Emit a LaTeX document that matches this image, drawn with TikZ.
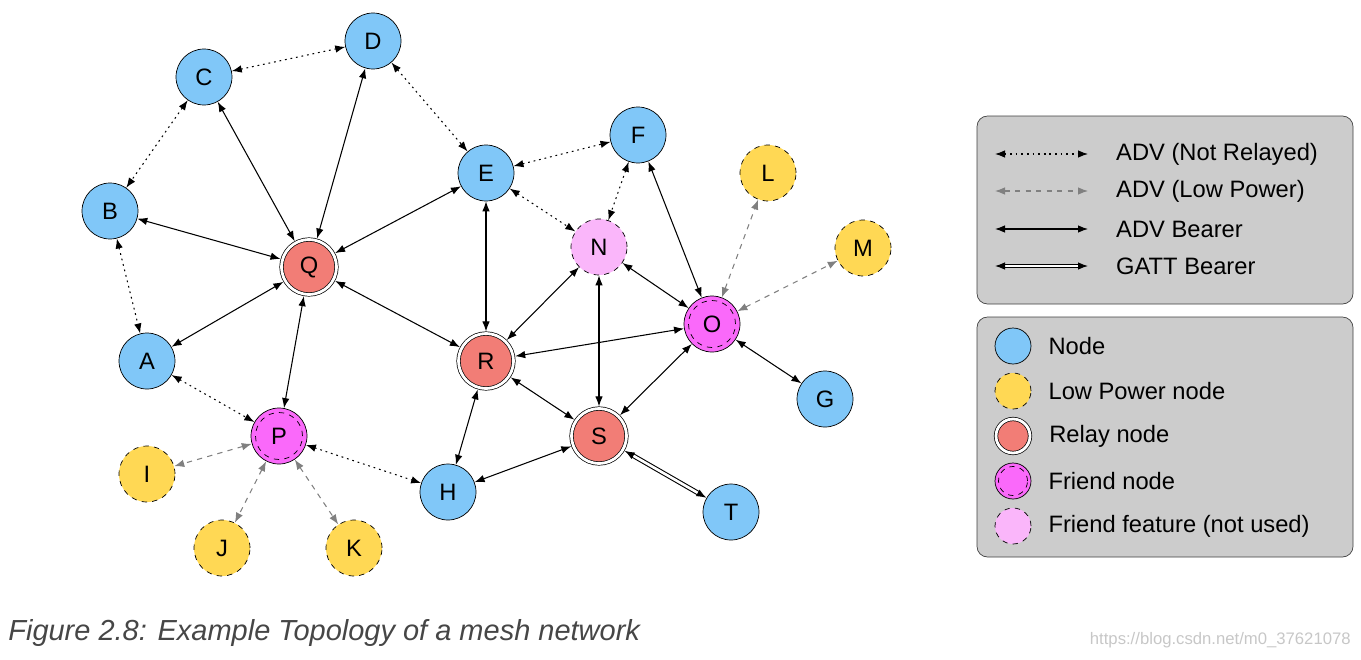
\documentclass[tikz,border=0pt]{standalone}
\usepackage{fontspec}
\setmainfont{Liberation Sans}
\usetikzlibrary{arrows.meta,positioning}

\definecolor{nodeblue}{RGB}{128,199,248}
\definecolor{lowyellow}{RGB}{255,216,84}
\definecolor{relayred}{RGB}{242,125,118}
\definecolor{friendpink}{RGB}{250,105,250}
\definecolor{featurepink}{RGB}{250,182,250}
\definecolor{legendgray}{RGB}{204,204,204}
\definecolor{captiongray}{RGB}{70,70,70}

\begin{document}
\begin{tikzpicture}[
		x=0.02cm, y=-0.02cm,
		every node/.style={font=\fontsize{13.5}{16}\selectfont},
		mesh/.style={circle, draw, minimum size=1.12cm, inner sep=0pt, fill=nodeblue},
		lowpower/.style={mesh, fill=lowyellow, dashed},
		relay/.style={mesh, fill=relayred, double, double distance=1.6pt, minimum size=1.1cm, outer sep=1.2pt},
		friend/.style={mesh, fill=friendpink, path picture={\draw[dashed] (path picture bounding box.center) circle (0.47cm);}},
		feature/.style={mesh, fill=featurepink, dashed},
		small/.style={minimum size=0.72cm},
		tip/.tip={Latex[length=2mm, width=1.5mm]},
		adv/.style={tip-tip, semithick, dash pattern=on 1pt off 2.2pt},
		lowadv/.style={tip-tip, dashed, semithick, gray},
		bearer/.style={tip-tip, semithick},
		gatt/.style={tip-tip, semithick, double, double distance=1.5pt},
		legendbox/.style={draw=black!75, fill=legendgray, rounded corners=6pt}
	]
	\useasboundingbox (0,0) rectangle (1361,659);

	% mesh nodes
	\node[mesh] (C) at (204,77) {C};
	\node[mesh] (D) at (373,41) {D};
	\node[mesh] (B) at (110,211) {B};
	\node[mesh] (E) at (486,173) {E};
	\node[mesh] (F) at (638,135) {F};
	\node[lowpower] (L) at (768,173) {L};
	\node[lowpower] (M) at (863,248) {M};
	\node[feature] (N) at (599,247) {N};
	\node[relay] (Q) at (309,267) {Q};
	\node[friend] (O) at (712,324) {O};
	\node[mesh] (A) at (147,361) {A};
	\node[relay] (R) at (486,361) {R};
	\node[mesh] (G) at (825,399) {G};
	\node[friend] (P) at (279,436) {P};
	\node[relay] (S) at (599,436) {S};
	\node[lowpower] (I) at (147,474) {I};
	\node[mesh] (H) at (448,492) {H};
	\node[mesh] (T) at (731,512) {T};
	\node[lowpower] (J) at (222,548) {J};
	\node[lowpower] (K) at (354,548) {K};

	% not relayed
	\draw[adv] (C) -- (D);
	\draw[adv] (C) -- (B);
	\draw[adv] (B) -- (A);
	\draw[adv] (D) -- (E);
	\draw[adv] (E) -- (F);
	\draw[adv] (E) -- (N);
	\draw[adv] (F) -- (N);
	\draw[adv] (A) -- (P);
	\draw[adv] (P) -- (H);

	% low power
	\draw[lowadv] (P) -- (I);
	\draw[lowadv] (P) -- (J);
	\draw[lowadv] (P) -- (K);
	\draw[lowadv] (O) -- (L);
	\draw[lowadv] (O) -- (M);

	% bearers
	\draw[bearer] (C) -- (Q);
	\draw[bearer] (D) -- (Q);
	\draw[bearer] (B) -- (Q);
	\draw[bearer] (E) -- (Q);
	\draw[bearer] (A) -- (Q);
	\draw[bearer] (Q) -- (P);
	\draw[bearer] (Q) -- (R);
	\draw[bearer] (E) -- (R);
	\draw[bearer] (F) -- (O);
	\draw[bearer] (N) -- (R);
	\draw[bearer] (N) -- (S);
	\draw[bearer] (N) -- (O);
	\draw[bearer] (O) -- (R);
	\draw[bearer] (O) -- (S);
	\draw[bearer] (O) -- (G);
	\draw[bearer] (R) -- (S);
	\draw[bearer] (R) -- (H);
	\draw[bearer] (S) -- (H);
	\draw[gatt] (S) -- (T);

	% legend
	\draw[legendbox] (977,116) rectangle (1353,304);
	\draw[legendbox] (977,317) rectangle (1353,557);

	\coordinate (adv a) at (995,154);
	\coordinate (adv b) at (1088,154);
	\coordinate (low a) at (995,191);
	\coordinate (low b) at (1088,191);
	\coordinate (bearer a) at (995,229);
	\coordinate (bearer b) at (1088,229);
	\coordinate (gatt a) at (995,266);
	\coordinate (gatt b) at (1088,266);
	\draw[adv] (adv a) -- (adv b);
	\draw[lowadv] (low a) -- (low b);
	\draw[bearer] (bearer a) -- (bearer b);
	\draw[gatt] (gatt a) -- (gatt b);
	\node[right=0.44cm of adv b] (adv txt) {ADV (Not Relayed)};
	\node[right=0.44cm of low b] (low txt) {ADV (Low Power)};
	\node[right=0.44cm of bearer b] (bearer txt) {ADV Bearer};
	\node[right=0.44cm of gatt b] (gatt txt) {GATT Bearer};

	\node[mesh, small] (lg mesh) at (1013,346) {};
	\node[lowpower, small] (lg low) at (1013,391) {};
	\node[relay, small, minimum size=0.68cm] (lg relay) at (1013,436) {};
	\node[friend, small, path picture={\draw[dashed] (path picture bounding box.center) circle (0.29cm);}] (lg friend) at (1013,481) {};
	\node[feature, small] (lg feature) at (1013,526) {};
	\node[right=0.22cm of lg mesh] (lg mesh txt) {Node};
	\node[right=0.22cm of lg low] (lg low txt) {Low Power node};
	\node[right=0.22cm of lg relay] (lg relay txt) {Relay node};
	\node[right=0.22cm of lg friend] (lg friend txt) {Friend node};
	\node[right=0.22cm of lg feature] (lg feature txt) {Friend feature (not used)};

	% caption and mark
	\node[anchor=west, inner sep=0pt, text=captiongray, font=\fontsize{16.5}{20}\selectfont\itshape] (caption) at (8,633) {Figure 2.8: Example Topology of a mesh network};
	\node[anchor=east, inner sep=0pt, text=black!22, font=\fontsize{9.5}{11}\selectfont] (mark) at (1351,640) {https://blog.csdn.net/m0\_37621078};
\end{tikzpicture}
\end{document}
